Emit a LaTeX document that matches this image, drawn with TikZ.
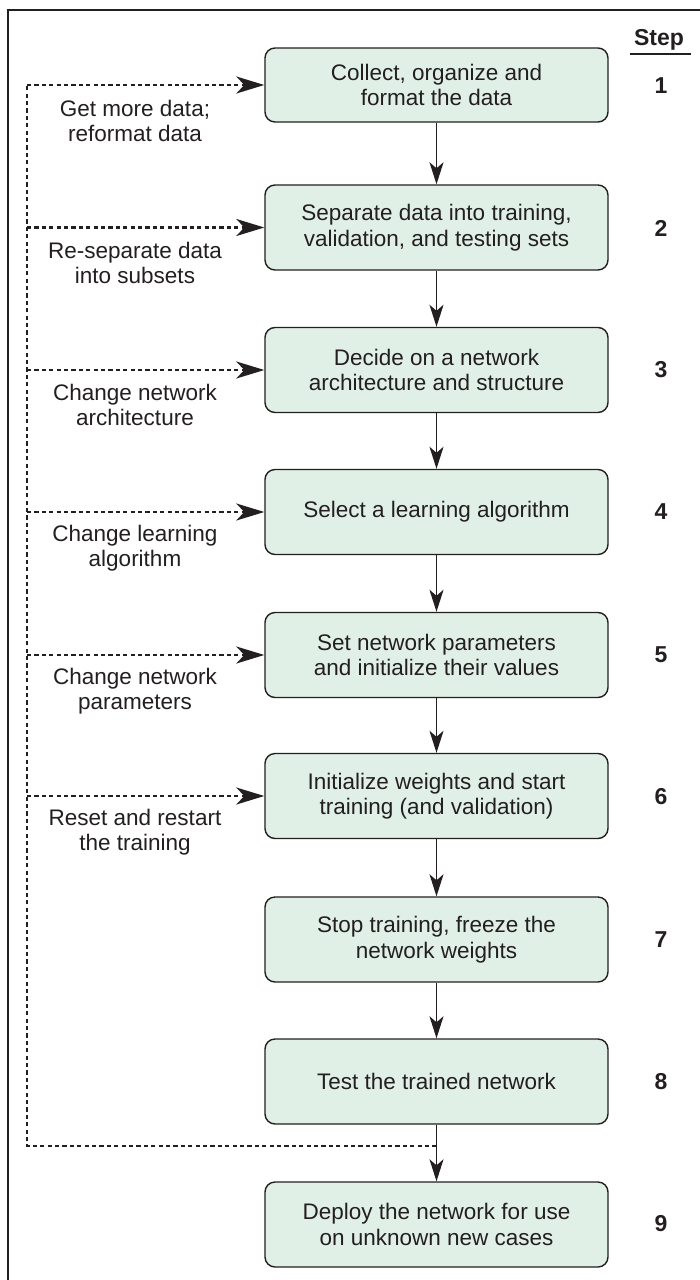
\documentclass[tikz,border=0pt]{standalone}
\usepackage{fontspec}
\setmainfont{Liberation Sans}
\usetikzlibrary{arrows.meta}
\definecolor{boxfill}{RGB}{225,240,230}
\definecolor{ink}{RGB}{35,31,32}
\begin{document}
\begin{tikzpicture}[x=1pt,y=-1pt,
  stepbox/.style={draw=ink, line width=1.4pt, fill=boxfill, rounded corners=10pt,
    minimum width=343pt, minimum height=85pt, align=center, text=ink,
    font=\fontsize{22.5}{25.5}\selectfont, inner sep=0pt},
  fblabel/.style={align=center, text=ink, font=\fontsize{22.5}{25.5}\selectfont, inner sep=0pt},
  stepnum/.style={text=ink, font=\fontsize{23}{26}\selectfont\bfseries, inner sep=0pt},
  flow/.style={draw=ink, line width=1.6pt, -{Stealth[length=22pt, width=14pt, inset=6pt]}},
  fb/.style={draw=ink, line width=2.2pt, dash pattern=on 4.2pt off 3.2pt},
  fbarrow/.style={fb, -{Stealth[length=28pt, width=17pt, inset=8pt]}}
]
\useasboundingbox (0,0) rectangle (700,1280);
\fill[white] (0,0) rectangle (700,1280);
% outer frame
\draw[ink, line width=1.2pt] (8,1285) -- (8,10) -- (705,10);

% step boxes
\node[stepbox, minimum height=74pt] (b1) at (436.5,85) {Collect, organize and\\format the data};
\node[stepbox] (b2) at (436.5,227.5) {Separate data into training,\\validation, and testing sets};
\node[stepbox] (b3) at (436.5,370) {Decide on a network\\architecture and structure};
\node[stepbox] (b4) at (436.5,512) {Select a learning algorithm};
\node[stepbox] (b5) at (436.5,655) {Set network parameters\\and initialize their values};
\node[stepbox] (b6) at (436.5,796) {Initialize weights and start\\training (and validation)};
\node[stepbox] (b7) at (436.5,939.5) {Stop training, freeze the\\network weights};
\node[stepbox] (b8) at (436.5,1081.5) {Test the trained network};
\node[stepbox] (b9) at (436.5,1224.5) {Deploy the network for use\\on unknown new cases};

% step column
\node[stepnum] (steph) at (659,40) {Step};
\coordinate (ulL) at (630,54);
\coordinate (ulR) at (691,54);
\draw[ink, line width=1.6pt] (ulL) -- (ulR);
\foreach \i/\y in {1/86,2/228,3/370,4/512,5/655,6/797,7/940,8/1082,9/1224} {
  \node[stepnum] (n\i) at (661,\y) {\i};
}

% forward flow
\foreach \a/\b in {b1/b2,b2/b3,b3/b4,b4/b5,b5/b6,b6/b7,b7/b8,b8/b9} {
  \draw[flow] (\a.south) -- (\b.north);
}

% feedback loop
\coordinate (jn) at (436.5,1146);
\coordinate (lc) at (27,1146);
\draw[fb] (jn) -- (lc) -- (lc |- b1.west);
\foreach \i in {1,...,6} {
  \draw[fbarrow] (lc |- b\i.west) -- (b\i.west);
}

% feedback labels
\node[fblabel] (l1) at (135,121) {Get more data;\\reformat data};
\node[fblabel] (l2) at (135,263) {Re-separate data\\into subsets};
\node[fblabel] (l3) at (135,405) {Change network\\architecture};
\node[fblabel] (l4) at (135,548) {Change learning\\algorithm};
\node[fblabel] (l5) at (135,691) {Change network\\parameters};
\node[fblabel] (l6) at (135,832) {Reset and restart\\the training};
\end{tikzpicture}
\end{document}
